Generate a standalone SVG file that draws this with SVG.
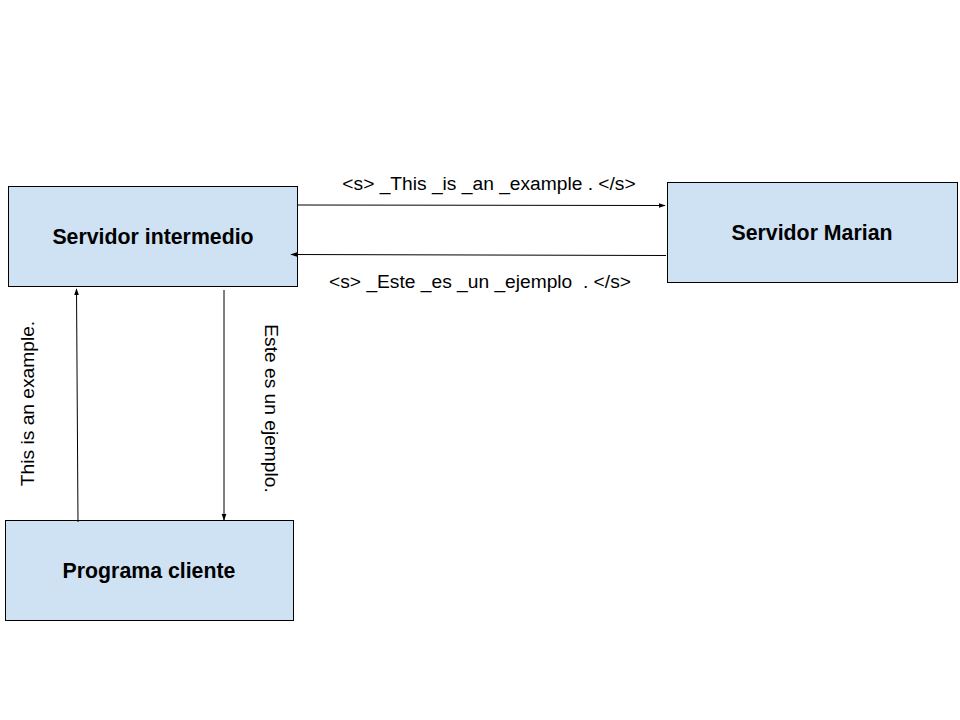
<svg xmlns="http://www.w3.org/2000/svg" width="960" height="720" viewBox="0 0 960 720">
<style>
.box{fill:#cfe2f3;stroke:#000;stroke-width:1}
.nl{font-family:"Liberation Sans",Arial,sans-serif;font-size:21.3px;font-weight:bold;fill:#000;text-anchor:middle}
.el{font-family:"Liberation Sans",Arial,sans-serif;font-size:19.2px;fill:#000;text-anchor:middle}
.ln{stroke:#000;stroke-width:1;fill:none;marker-end:url(#ah)}
</style>
<defs>
<marker id="ah" viewBox="0 0 10 10" refX="9" refY="5" markerWidth="7" markerHeight="7" markerUnits="userSpaceOnUse" orient="auto">
<path d="M0,1.5 L10,5 L0,8.5 z" fill="#000"/>
</marker>
</defs>
<rect width="960" height="720" fill="#fff"/>
<g id="servidor-intermedio">
<rect class="box" x="8.5" y="186.5" width="289" height="100"/>
<text class="nl" x="153" y="244">Servidor intermedio</text>
</g>
<g id="servidor-marian">
<rect class="box" x="667.5" y="182.5" width="290" height="100"/>
<text class="nl" x="812" y="240">Servidor Marian</text>
</g>
<g id="programa-cliente">
<rect class="box" x="5.5" y="520.5" width="288" height="100"/>
<text class="nl" x="149" y="578">Programa cliente</text>
</g>
<g id="connectors">
<path class="ln" d="M298,205 L665,205.5"/>
<path class="ln" d="M666,255.5 L291,254.5"/>
<path class="ln" d="M78,522 L76.5,289"/>
<path class="ln" d="M224,290 L224,520"/>
<text class="el" x="489" y="190">&lt;s&gt; _This _is _an _example . &lt;/s&gt;</text>
<text class="el" x="480" y="288">&lt;s&gt; _Este _es _un _ejemplo &#160;. &lt;/s&gt;</text>
<text class="el" transform="translate(34,403.5) rotate(-90)">This is an example.</text>
<text class="el" transform="translate(265,408.5) rotate(90)">Este es un ejemplo.</text>
</g>
</svg>
